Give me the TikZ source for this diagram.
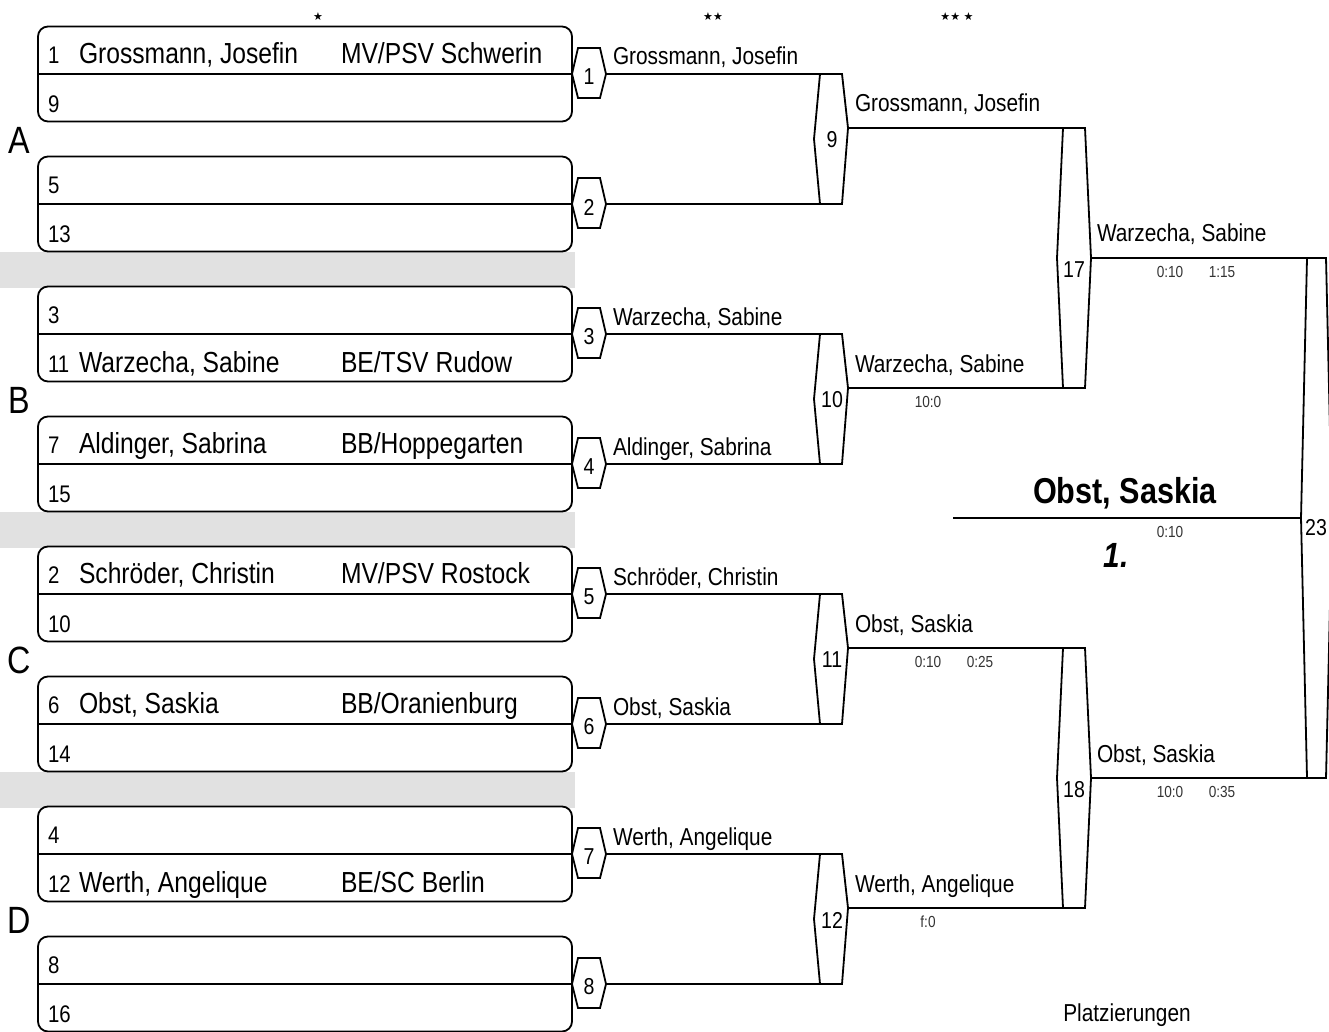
\documentclass[tikz,border=0pt]{standalone}
\usepackage{fontspec}
\setmainfont[FakeStretch=0.85]{Liberation Sans}
\newfontfamily\symfont{DejaVu Sans}
\definecolor{band}{RGB}{225,225,225}
\newcommand\setfs[1]{\fontsize{#1}{#1}\selectfont}
% hexagon: #1 name, #2 left vertex x, #3 right vertex x, #4 top y, #5 bottom y, #6 left vertex y, #7 right vertex y
\newcommand\bhex[7]{%
  \draw[ln] (#2+6,#4) coordinate (#1-tl) -- (#3-6,#4) coordinate (#1-tr)
    -- (#3,#7) coordinate (#1-out) -- (#3-6,#5) coordinate (#1-br)
    -- (#2+6,#5) coordinate (#1-bl) -- (#2,#6) coordinate (#1-in) -- cycle;}
\tikzset{
  every node/.style={inner sep=0pt, outer sep=0pt},
  ln/.style={line width=1.8pt, line join=miter},
  boxs/.style={draw, line width=1.8pt, rounded corners=10pt, fill=white,
    minimum width=534pt, minimum height=95pt},
  seed/.style={anchor=base west, font=\setfs{24}},
  pname/.style={anchor=base west, font=\setfs{29}},
  rlab/.style={anchor=base west, font=\setfs{24.5}},
  score/.style={anchor=base, font=\setfs{16}, text=black!80},
  hnum/.style={font=\setfs{23}},
  grp/.style={anchor=base, font=\setfs{38}},
  star/.style={font=\symfont\setfs{11}},
}
\begin{document}
\begin{tikzpicture}[x=1pt,y=-1pt]
\useasboundingbox (0,0) rectangle (1329,1032);
% grey bands
\fill[band] (0,252) rectangle (575,288);
\fill[band] (0,512) rectangle (575,548);
\fill[band] (0,772) rectangle (575,808);
% boxes and first-round hexagons
\foreach \k [evaluate=\k as \ly using 74+130*\k, evaluate=\k as \n using int(\k+1)] in {0,...,7}{
  \node[boxs] (b\n) at (305,\ly) {};
  \draw[ln] (b\n.west) -- (b\n.east);
  \bhex{h\n}{572}{606}{\ly-26}{\ly+24}{\ly}{\ly}
  \node[hnum] (hn\n) at (589,\ly+3) {\n};
}
% stars
\node[star] (s1) at (318,17) {★};
\node[star] (s2) at (713,17) {★★};
\node[star] (s3) at (957,17) {★★ ★};
% group letters
\node[grp] (gA) at (19,153.5) {A};
\node[grp] (gB) at (19,413.5) {B};
\node[grp] (gC) at (19,673.5) {C};
\node[grp] (gD) at (19,933.5) {D};
% box texts
\node[seed] (n1) at (48,63.5) {1};
\node[pname] (p1) at (79,63.5) {Grossmann, Josefin};
\node[pname] (c1) at (341,63.5) {MV/PSV Schwerin};
\node[seed] (n9) at (48,112.5) {9};
\node[seed] (n5) at (48,193.5) {5};
\node[seed] (n13) at (48,242.5) {13};
\node[seed] (n3) at (48,323.5) {3};
\node[seed] (n11) at (48,372.5) {11};
\node[pname] (p11) at (79,372.5) {Warzecha, Sabine};
\node[pname] (c11) at (341,372.5) {BE/TSV Rudow};
\node[seed] (n7) at (48,453.5) {7};
\node[pname] (p7) at (79,453.5) {Aldinger, Sabrina};
\node[pname] (c7) at (341,453.5) {BB/Hoppegarten};
\node[seed] (n15) at (48,502.5) {15};
\node[seed] (n2) at (48,583.5) {2};
\node[pname] (p2) at (79,583.5) {Schröder, Christin};
\node[pname] (c2) at (341,583.5) {MV/PSV Rostock};
\node[seed] (n10) at (48,632.5) {10};
\node[seed] (n6) at (48,713.5) {6};
\node[pname] (p6) at (79,713.5) {Obst, Saskia};
\node[pname] (c6) at (341,713.5) {BB/Oranienburg};
\node[seed] (n14) at (48,762.5) {14};
\node[seed] (n4) at (48,843.5) {4};
\node[seed] (n12) at (48,892.5) {12};
\node[pname] (p12) at (79,892.5) {Werth, Angelique};
\node[pname] (c12) at (341,892.5) {BE/SC Berlin};
\node[seed] (n8) at (48,973.5) {8};
\node[seed] (n16) at (48,1022.5) {16};
% round 2 hexagons
\bhex{h9}{814}{848}{74}{204}{139}{128}
\bhex{h10}{814}{848}{334}{464}{399}{388}
\bhex{h11}{814}{848}{594}{724}{659}{648}
\bhex{h12}{814}{848}{854}{984}{919}{908}
\node[hnum] (hn9) at (832,140) {9};
\node[hnum] (hn10) at (832,400) {10};
\node[hnum] (hn11) at (832,660) {11};
\node[hnum] (hn12) at (832,920) {12};
% round 3 hexagons
\bhex{h17}{1057}{1091}{128}{388}{258}{258}
\bhex{h18}{1057}{1091}{648}{908}{778}{778}
\node[hnum] (hn17) at (1074,270) {17};
\node[hnum] (hn18) at (1074,790) {18};
% final hexagon
\bhex{h23}{1301}{1332}{258}{778}{518}{518}
\node[hnum] (hn23) at (1316,528) {23};
% connectors
\draw[ln] (h1-out) -- (h9-tl);
\draw[ln] (h2-out) -- (h9-bl);
\draw[ln] (h3-out) -- (h10-tl);
\draw[ln] (h4-out) -- (h10-bl);
\draw[ln] (h5-out) -- (h11-tl);
\draw[ln] (h6-out) -- (h11-bl);
\draw[ln] (h7-out) -- (h12-tl);
\draw[ln] (h8-out) -- (h12-bl);
\draw[ln] (h9-out) -- (h17-tl);
\draw[ln] (h10-out) -- (h17-bl);
\draw[ln] (h11-out) -- (h18-tl);
\draw[ln] (h12-out) -- (h18-bl);
\draw[ln] (h17-out) -- (h23-tl);
\draw[ln] (h18-out) -- (h23-bl);
\coordinate (wl) at (953,518);
\draw[ln] (wl) -- (h23-in);
% round 1 winners
\node[rlab] (r1) at (613,65) {Grossmann, Josefin};
\node[rlab] (r3) at (613,325) {Warzecha, Sabine};
\node[rlab] (r4) at (613,455) {Aldinger, Sabrina};
\node[rlab] (r5) at (613,585) {Schröder, Christin};
\node[rlab] (r6) at (613,715) {Obst, Saskia};
\node[rlab] (r7) at (613,845) {Werth, Angelique};
% round 2 winners
\node[rlab] (r9) at (855,112) {Grossmann, Josefin};
\node[rlab] (r10) at (855,372) {Warzecha, Sabine};
\node[score] (sc10a) at (928,407) {10:0};
\node[rlab] (r11) at (855,632) {Obst, Saskia};
\node[score] (sc11a) at (928,667) {0:10};
\node[score] (sc11b) at (980,667) {0:25};
\node[rlab] (r12) at (855,892) {Werth, Angelique};
\node[score] (sc12a) at (928,927) {f:0};
% round 3 winners
\node[rlab] (r17) at (1097,242) {Warzecha, Sabine};
\node[score] (sc17a) at (1170,277) {0:10};
\node[score] (sc17b) at (1222,277) {1:15};
\node[rlab] (r18) at (1097,762) {Obst, Saskia};
\node[score] (sc18a) at (1170,797) {10:0};
\node[score] (sc18b) at (1222,797) {0:35};
% winner
\node[anchor=base, font=\bfseries\setfs{36}] (win) at (1125,503) {Obst, Saskia};
\node[score] (sc23) at (1170,537) {0:10};
\node[anchor=base, font=\bfseries\itshape\setfs{35}] (pl1) at (1116,567) {1.};
\node[anchor=base, font=\setfs{24.5}] (plz) at (1127,1021) {Platzierungen};
\end{tikzpicture}
\end{document}
